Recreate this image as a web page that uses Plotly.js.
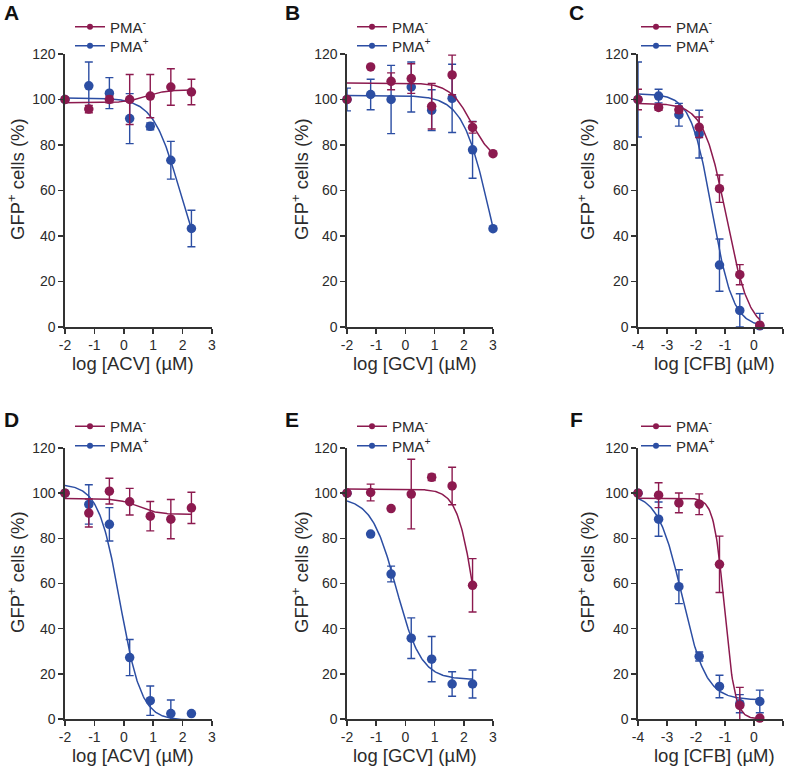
<!DOCTYPE html>
<html>
<head>
<meta charset="utf-8">
<script src="https://cdn.plot.ly/plotly-3.0.1.min.js"></script>
<style>html,body{margin:0;padding:0;background:#fff;}#chart{width:787px;height:770px;}</style>
</head>
<body>
<div id="chart"></div>
<script>
// ---------------- DATA ----------------
const panelLetters = ['A', 'B', 'C', 'D', 'E', 'F'];
const xTitles = ['log [ACV] (µM)', 'log [GCV] (µM)', 'log [CFB] (µM)', 'log [ACV] (µM)', 'log [GCV] (µM)', 'log [CFB] (µM)'];
const yTitle = 'GFP<sup>+</sup> cells (%)';
const seriesNames = ['PMA<sup>-</sup>', 'PMA<sup>+</sup>'];
const yTickVals = [0, 20, 40, 60, 80, 100, 120];
const xTickValsAV = [-2, -1, 0, 1, 2, 3];
const xTickTextAV = ['-2', '-1', '0', '1', '2', '3'];
const xTickValsCFB = [-4, -3, -2, -1, 0, 1];
const xTickTextCFB = ['-4', '-3', '-2', '-1', '0', '1'];

// Panel A – ACV
const xA = [-2, -1.19, -0.49, 0.2, 0.9, 1.6, 2.3];
const aMinusY = [100, 95.8, 100, 100, 101.5, 105.5, 103.3];
const aMinusErr = [0, 1.6, 1.5, 11, 9.5, 8, 5.6];
const aPlusY = [100, 106, 102.8, 91.6, 88.2, 73.3, 43.3];
const aPlusErr = [0, 10.5, 6.8, 11, 1.5, 8.3, 8];
// Panel B – GCV
const xB = [-2, -1.19, -0.49, 0.2, 0.9, 1.6, 2.3, 3];
const bMinusY = [100, 114.3, 108, 109.2, 97, 110.8, 87.7, 76.2];
const bMinusErr = [0, 0, 3.7, 6.5, 10, 8.7, 2.5, 0];
const bPlusY = [100, 102.2, 100, 105.5, 95.3, 100.5, 77.9, 43.2];
const bPlusErr = [5, 6.7, 15, 11, 9, 15, 12.5, 0];
// Panel C – CFB
const xC = [-4, -3.29, -2.59, -1.89, -1.19, -0.49, 0.2];
const cMinusY = [100, 96.5, 95.5, 87.8, 60.8, 23, 0.8];
const cMinusErr = [4.5, 1.2, 1.5, 4.5, 6, 4.4, 0];
const cPlusY = [100, 101.5, 93.3, 84.8, 27.2, 7.3, 0.5];
const cPlusErr = [16.5, 3, 5, 10.5, 11.5, 7.3, 5.5];
// Panel D – ACV
const xD = [-2, -1.19, -0.49, 0.2, 0.9, 1.6, 2.3];
const dMinusY = [100, 91.2, 100.9, 96.2, 89.8, 88.5, 93.5];
const dMinusErr = [0, 6.2, 5.7, 5.9, 6.5, 8.7, 6.9];
const dPlusY = [100, 95, 86.2, 27.2, 8.1, 2.4, 2.4];
const dPlusErr = [0, 8.7, 7.4, 8, 6.5, 6, 0];
// Panel E – GCV
const xE = [-2, -1.19, -0.49, 0.2, 0.9, 1.6, 2.3];
const eMinusY = [100, 100.3, 93.2, 99.6, 107, 103.2, 59.2];
const eMinusErr = [0, 3.7, 0, 15.4, 1.4, 8.3, 11.8];
const ePlusY = [100, 81.9, 64.2, 35.8, 26.5, 15.5, 15.5];
const ePlusErr = [0, 0, 3.5, 9, 10, 5.4, 6.2];
// Panel F – CFB
const xF = [-4, -3.29, -2.59, -1.89, -1.19, -0.49, 0.2];
const fMinusY = [100, 99.1, 95.7, 95.1, 68.5, 6, 0.4];
const fMinusErr = [0, 5.5, 4.4, 4.6, 12.5, 8, 0];
const fPlusY = [100, 88.5, 58.6, 27.7, 14.4, 6.8, 7.8];
const fPlusErr = [0, 7.6, 7.5, 2, 5, 4, 5];

// Four-parameter logistic fits [bottom, top, logEC50, hillSlope] (estimated from the drawn curves)
const fitAMinus = [98.6, 104.2, 0.75, 1.3];
const fitAPlus = [20, 100.7, 1.89, -0.97];
const fitBMinus = [72, 107.3, 2.27, -1.15];
const fitBPlus = [0, 101.8, 2.87, -0.95];
const fitCMinus = [-2, 98.3, -0.95, -1.1];
const fitCPlus = [0, 102.5, -1.45, -1.2];
const fitDMinus = [90.6, 97.6, 0.5, -1.3];
const fitDPlus = [-0.5, 104, -0.13, -1.2];
const fitEMinus = [0, 101.8, 2.4, -1.44];
const fitEPlus = [17.5, 98, -0.31, -1.02];
const fitFMinus = [0, 97.8, -1.02, -2.39];
const fitFPlus = [8.5, 100, -2.48, -1.05];

// ---------------- STYLE / LAYOUT ----------------
const W = 787, H = 770;
const RED = '#8c1a4f', BLUE = '#2c4ea3';
const INK = '#2b2b2b';
const FONT = 'Liberation Sans, Arial, Helvetica, sans-serif';
const px = v => v / W;
const py = v => 1 - v / H;

const panels = [
  {x: xA, m: aMinusY, me: aMinusErr, p: aPlusY, pe: aPlusErr, fm: fitAMinus, fp: fitAPlus, tv: xTickValsAV, tt: xTickTextAV},
  {x: xB, m: bMinusY, me: bMinusErr, p: bPlusY, pe: bPlusErr, fm: fitBMinus, fp: fitBPlus, tv: xTickValsAV, tt: xTickTextAV},
  {x: xC, m: cMinusY, me: cMinusErr, p: cPlusY, pe: cPlusErr, fm: fitCMinus, fp: fitCPlus, tv: xTickValsCFB, tt: xTickTextCFB},
  {x: xD, m: dMinusY, me: dMinusErr, p: dPlusY, pe: dPlusErr, fm: fitDMinus, fp: fitDPlus, tv: xTickValsAV, tt: xTickTextAV},
  {x: xE, m: eMinusY, me: eMinusErr, p: ePlusY, pe: ePlusErr, fm: fitEMinus, fp: fitEPlus, tv: xTickValsAV, tt: xTickTextAV},
  {x: xF, m: fMinusY, me: fMinusErr, p: fPlusY, pe: fPlusErr, fm: fitFMinus, fp: fitFPlus, tv: xTickValsCFB, tt: xTickTextCFB}
];

// pixel boxes of each plotting area [left, right, top, bottom]
const boxes = [
  [65, 212, 54, 327], [347, 493, 54, 327], [638, 783, 54, 327],
  [65, 212, 448, 719], [347, 493, 448, 719], [638, 783, 448, 719]
];
const legendLeft = [70, 352, 636, 70, 352, 636];
const legendRowTop = [[10.5, 29.5], [10.5, 29.5], [10.5, 29.5], [410, 429.5], [410, 429.5], [410, 429.5]];
const yTitlePos = [[16, 179], [300, 179], [586, 179], [16, 572], [300, 572], [586, 572]];
const xTitlePos = [[133, 363], [415, 363], [714, 363], [133, 755], [415, 755], [714, 755]];
const letterPos = [[11, 13], [292, 13], [576, 13], [11, 420], [292, 420], [576, 420]];

function logistic(f, x) {
  return f[0] + (f[1] - f[0]) / (1 + Math.pow(10, (f[2] - x) * f[3]));
}
function fitCurve(f, x0, x1) {
  const xs = [], ys = [];
  const n = 160;
  for (let i = 0; i <= n; i++) {
    const x = x0 + (x1 - x0) * i / n;
    xs.push(x); ys.push(logistic(f, x));
  }
  return {xs, ys};
}

const traces = [];
const layout = {
  width: W, height: H,
  margin: {l: 0, r: 0, t: 0, b: 0},
  paper_bgcolor: '#fff', plot_bgcolor: 'rgba(0,0,0,0)',
  font: {family: FONT, color: INK, size: 14},
  showlegend: true,
  annotations: []
};

let legendCount = 0;
function nextLegend() {
  legendCount++;
  return 'legend' + (legendCount === 1 ? '' : legendCount);
}

panels.forEach((P, i) => {
  const k = i + 1;
  const xa = 'x' + (k === 1 ? '' : k), ya = 'y' + (k === 1 ? '' : k);
  const b = boxes[i];
  const xmin = P.x[0], xmax = P.x[P.x.length - 1];

  const cp = fitCurve(P.fp, xmin, xmax);
  const cm = fitCurve(P.fm, xmin, xmax);
  traces.push({x: cp.xs, y: cp.ys, xaxis: xa, yaxis: ya, mode: 'lines', line: {color: BLUE, width: 1.5}, showlegend: false, hoverinfo: 'skip'});
  traces.push({x: P.x, y: P.p, xaxis: xa, yaxis: ya, mode: 'markers', cliponaxis: false,
    marker: {color: BLUE, size: 9.5}, showlegend: false,
    error_y: {type: 'data', array: P.pe, visible: true, color: BLUE, thickness: 1.4, width: 4}});
  traces.push({x: cm.xs, y: cm.ys, xaxis: xa, yaxis: ya, mode: 'lines', line: {color: RED, width: 1.5}, showlegend: false, hoverinfo: 'skip'});
  traces.push({x: P.x, y: P.m, xaxis: xa, yaxis: ya, mode: 'markers', cliponaxis: false,
    marker: {color: RED, size: 9.5}, showlegend: false,
    error_y: {type: 'data', array: P.me, visible: true, color: RED, thickness: 1.4, width: 4}});

  // legend entries: one single-item legend per row
  [[seriesNames[0], RED], [seriesNames[1], BLUE]].forEach((s, r) => {
    const ln = nextLegend();
    traces.push({x: [null], y: [null], xaxis: xa, yaxis: ya, mode: 'lines+markers', name: s[0],
      line: {color: s[1], width: 1.5}, marker: {color: s[1], size: 6}, legend: ln});
    layout[ln] = {x: px(legendLeft[i]), y: py(legendRowTop[i][r]), xanchor: 'left', yanchor: 'top',
      bgcolor: 'rgba(0,0,0,0)', borderwidth: 0, font: {size: 15, family: FONT, color: INK},
      tracegroupgap: 0, itemwidth: 30, itemclick: false, itemdoubleclick: false};
  });

  const axCommon = {showline: true, linecolor: '#333', linewidth: 1.6, ticks: 'outside', ticklen: 5,
    tickwidth: 1.5, tickcolor: '#333', showgrid: false, zeroline: false, fixedrange: true,
    tickfont: {size: 14, family: FONT, color: INK}};
  layout['xaxis' + (k === 1 ? '' : k)] = Object.assign({}, axCommon, {
    domain: [px(b[0]), px(b[1])], anchor: ya, range: [P.tv[0], P.tv[P.tv.length - 1]],
    tickmode: 'array', tickvals: P.tv, ticktext: P.tt});
  layout['yaxis' + (k === 1 ? '' : k)] = Object.assign({}, axCommon, {
    domain: [py(b[3]), py(b[2])], anchor: xa, range: [0, 120],
    tickmode: 'array', tickvals: yTickVals, ticktext: yTickVals.map(String)});

  layout.annotations.push({xref: 'paper', yref: 'paper', x: px(yTitlePos[i][0]), y: py(yTitlePos[i][1]),
    xanchor: 'center', yanchor: 'middle', textangle: -90, showarrow: false, text: yTitle,
    font: {size: 18.5, family: FONT, color: INK}});
  layout.annotations.push({xref: 'paper', yref: 'paper', x: px(xTitlePos[i][0]), y: py(xTitlePos[i][1]),
    xanchor: 'center', yanchor: 'middle', showarrow: false, text: xTitles[i],
    font: {size: 18.5, family: FONT, color: INK}});
  layout.annotations.push({xref: 'paper', yref: 'paper', x: px(letterPos[i][0]), y: py(letterPos[i][1]),
    xanchor: 'center', yanchor: 'middle', showarrow: false, text: '<b>' + panelLetters[i] + '</b>',
    font: {size: 21, family: FONT, color: '#111'}});
});

Plotly.newPlot('chart', traces, layout, {staticPlot: true, displayModeBar: false});
</script>
</body>
</html>
